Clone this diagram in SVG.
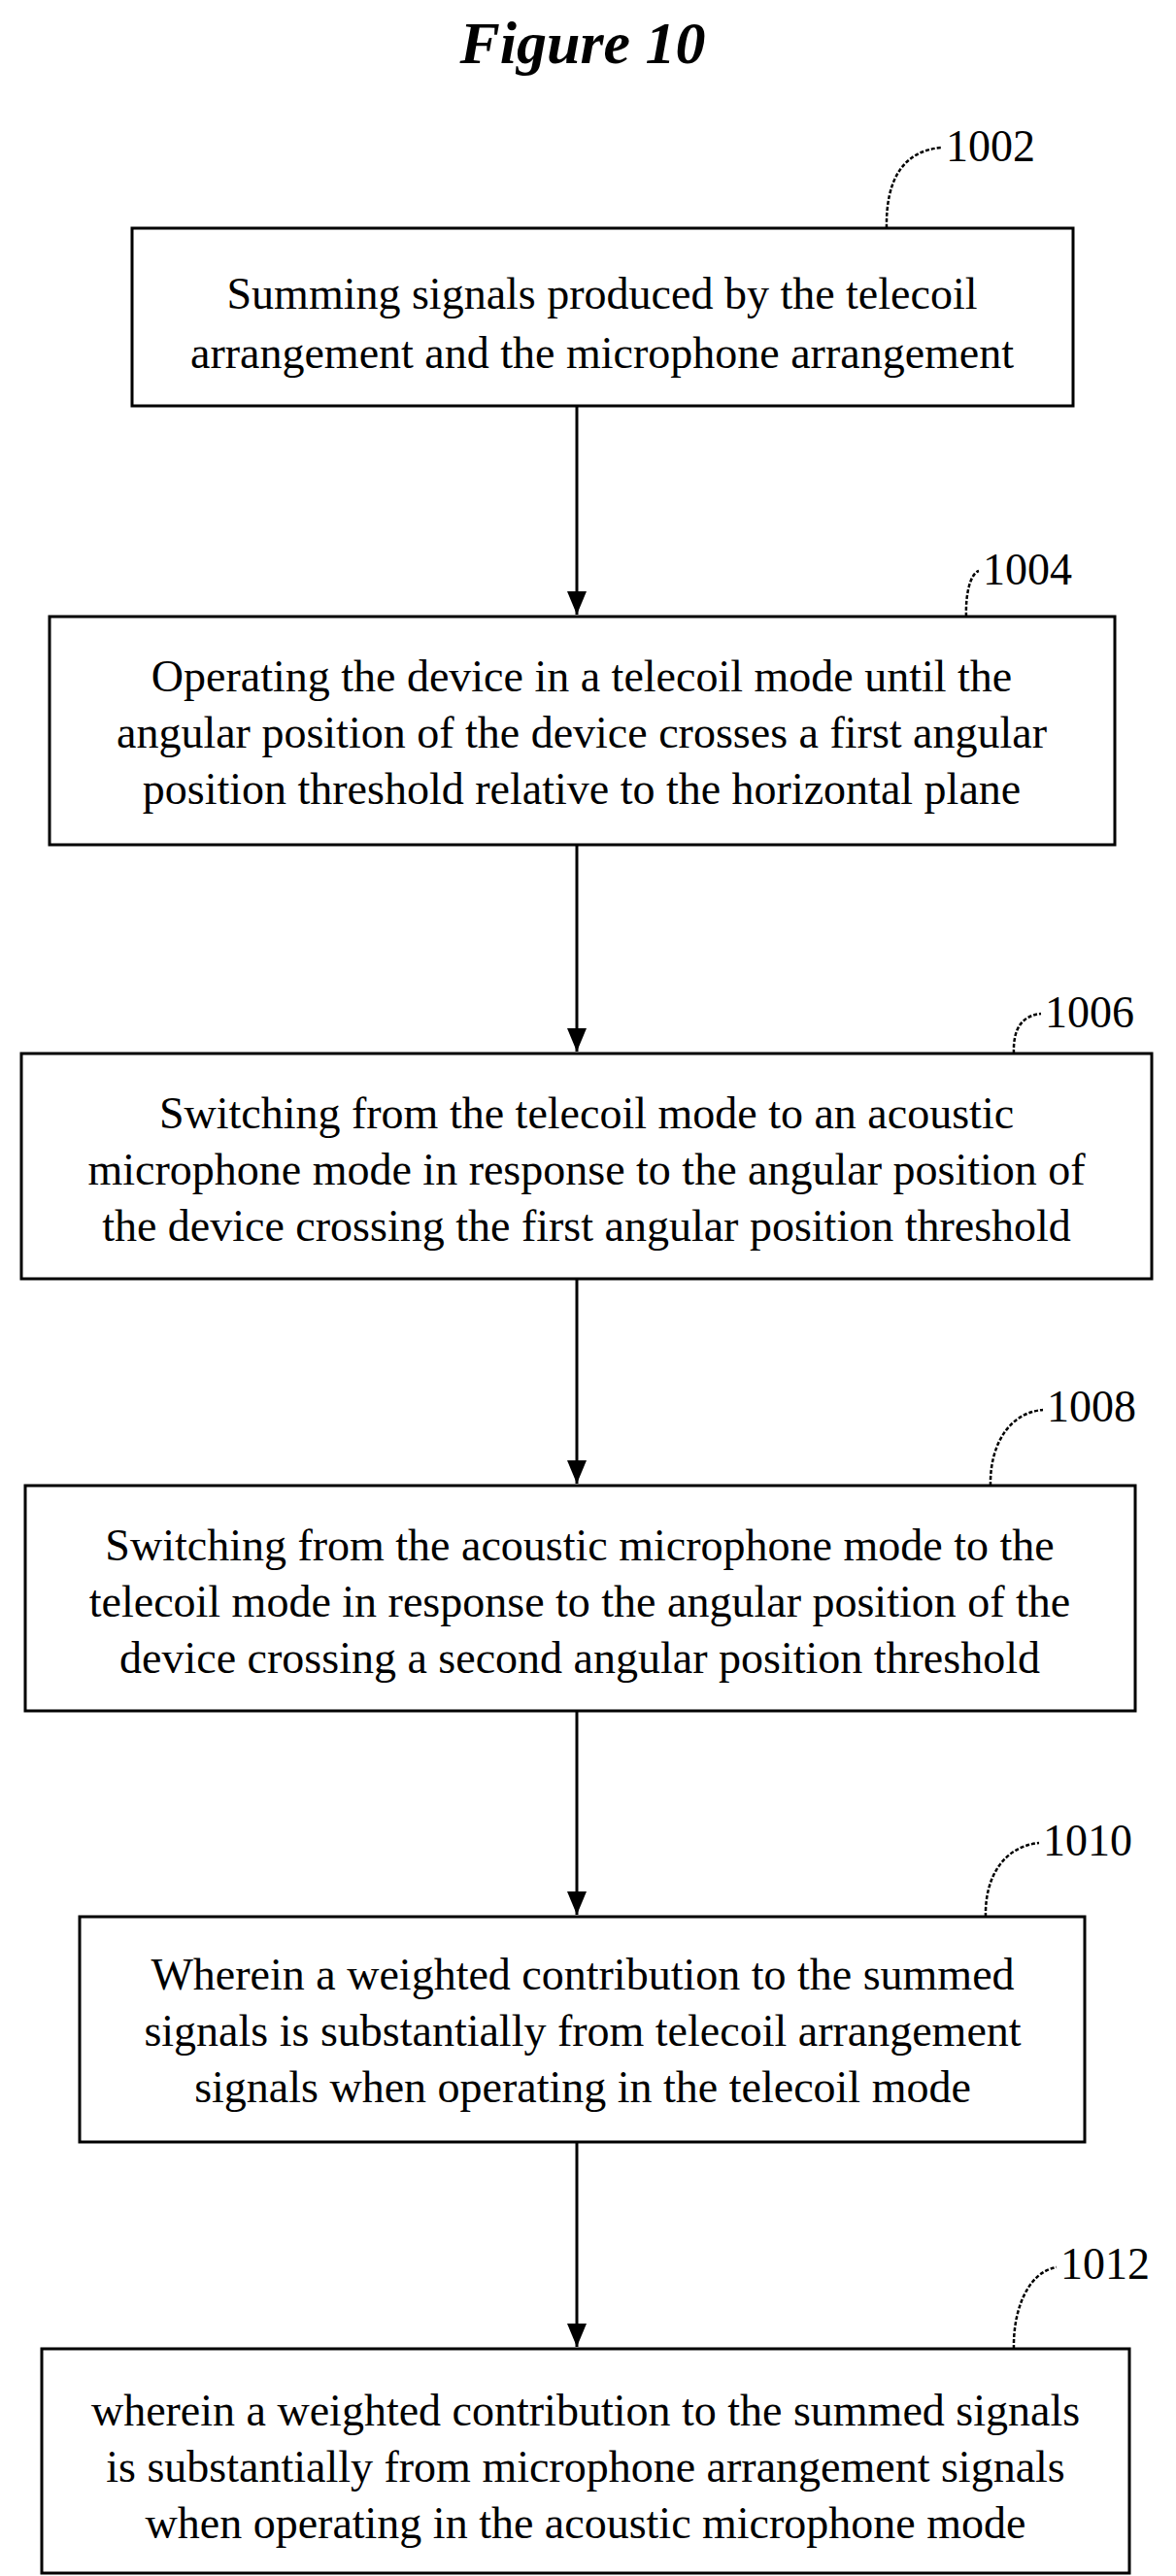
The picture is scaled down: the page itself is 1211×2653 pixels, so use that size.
<svg xmlns="http://www.w3.org/2000/svg" width="1211" height="2653" viewBox="0 0 1211 2653">
<style>
.box{fill:#fff;stroke:#000;stroke-width:3}
.t{font-family:"Liberation Serif",serif;font-size:46px;text-anchor:middle;fill:#000}
.lb{font-family:"Liberation Serif",serif;font-size:46px;fill:#000}
.ld{fill:none;stroke:#000;stroke-width:2.5;stroke-dasharray:4 2}
.c{stroke:#000;stroke-width:3;fill:none}
</style>
<defs>
<marker id="a" viewBox="0 0 24 20" refX="24" refY="10" markerWidth="24" markerHeight="20" orient="auto" markerUnits="userSpaceOnUse"><path d="M0,0 L24,10 L0,20 Z" fill="#000"/></marker></defs>
<text x="600" y="65" font-family="Liberation Serif,serif" font-size="62" font-weight="bold" font-style="italic" text-anchor="middle">Figure 10</text>
<g id="connectors">
<line class="c" x1="594" y1="418" x2="594" y2="633" marker-end="url(#a)"/>
<line class="c" x1="594" y1="870" x2="594" y2="1083" marker-end="url(#a)"/>
<line class="c" x1="594" y1="1317" x2="594" y2="1528" marker-end="url(#a)"/>
<line class="c" x1="594" y1="1762" x2="594" y2="1972" marker-end="url(#a)"/>
<line class="c" x1="594" y1="2206" x2="594" y2="2417" marker-end="url(#a)"/>
</g>
<g id="n1002"><rect class="box" x="136" y="235" width="969" height="183"/>
<text class="t" x="620" y="318">Summing signals produced by the telecoil</text>
<text class="t" x="620" y="379">arrangement and the microphone arrangement</text>
<path class="ld" d="M913,235 C912,185 930,155 970,152"/><text class="lb" x="974" y="166">1002</text></g>
<g id="n1004"><rect class="box" x="51" y="635" width="1097" height="235"/>
<text class="t" x="599" y="712">Operating the device in a telecoil mode until the</text>
<text class="t" x="599" y="770">angular position of the device crosses a first angular</text>
<text class="t" x="599" y="828">position threshold relative to the horizontal plane</text>
<path class="ld" d="M995,635 C994,610 1000,590 1008,588"/><text class="lb" x="1012" y="602">1004</text></g>
<g id="n1006"><rect class="box" x="22" y="1085" width="1164" height="232"/>
<text class="t" x="604" y="1162">Switching from the telecoil mode to an acoustic</text>
<text class="t" x="604" y="1220">microphone mode in response to the angular position of</text>
<text class="t" x="604" y="1278">the device crossing the first angular position threshold</text>
<path class="ld" d="M1044,1085 C1043,1060 1052,1046 1072,1044"/><text class="lb" x="1076" y="1058">1006</text></g>
<g id="n1008"><rect class="box" x="26" y="1530" width="1143" height="232"/>
<text class="t" x="597" y="1607">Switching from the acoustic microphone mode to the</text>
<text class="t" x="597" y="1665">telecoil mode in response to the angular position of the</text>
<text class="t" x="597" y="1723">device crossing a second angular position threshold</text>
<path class="ld" d="M1020,1530 C1019,1490 1038,1455 1074,1452"/><text class="lb" x="1078" y="1464">1008</text></g>
<g id="n1010"><rect class="box" x="82" y="1974" width="1035" height="232"/>
<text class="t" x="600" y="2049">Wherein a weighted contribution to the summed</text>
<text class="t" x="600" y="2107">signals is substantially from telecoil arrangement</text>
<text class="t" x="600" y="2165">signals when operating in the telecoil mode</text>
<path class="ld" d="M1015,1974 C1014,1935 1032,1902 1070,1898"/><text class="lb" x="1074" y="1911">1010</text></g>
<g id="n1012"><rect class="box" x="43" y="2419" width="1120" height="231"/>
<text class="t" x="603" y="2498">wherein a weighted contribution to the summed signals</text>
<text class="t" x="603" y="2556">is substantially from microphone arrangement signals</text>
<text class="t" x="603" y="2614">when operating in the acoustic microphone mode</text>
<path class="ld" d="M1044,2419 C1043,2380 1058,2340 1088,2335"/><text class="lb" x="1092" y="2347">1012</text></g>
</svg>
